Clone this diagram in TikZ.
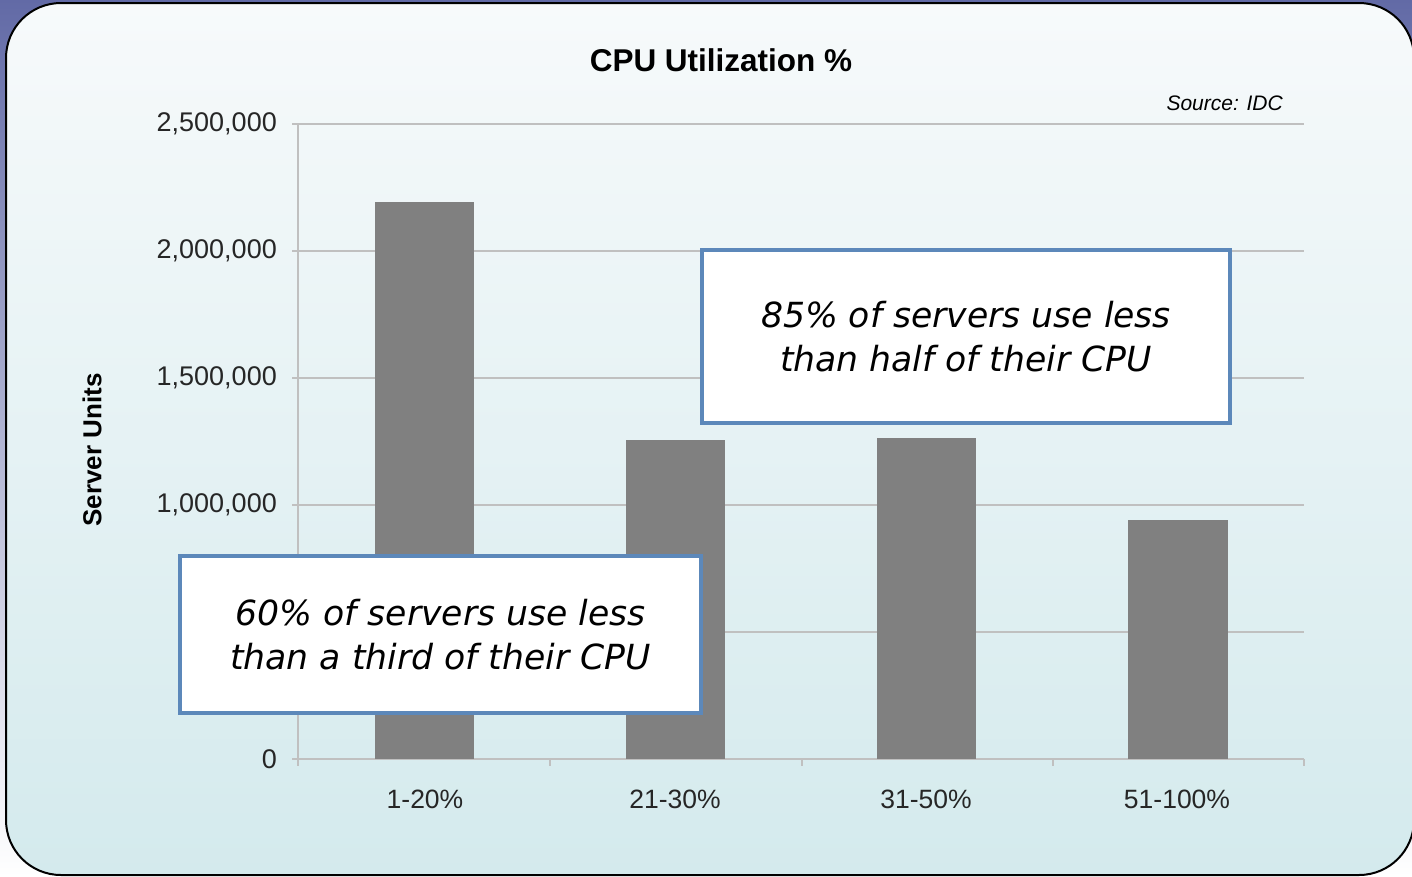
\documentclass[tikz,border=0pt]{standalone}
\usepackage{fontspec}
\setmainfont{Liberation Sans}
\newfontfamily\callfont{DejaVu Sans}
\definecolor{outerpurple}{RGB}{98,106,166}
\definecolor{innertop}{RGB}{247,250,251}
\definecolor{innerbot}{RGB}{212,234,237}
\definecolor{gridc}{RGB}{192,192,192}
\definecolor{barc}{RGB}{128,128,128}
\definecolor{boxc}{RGB}{92,136,186}
\definecolor{labc}{RGB}{38,38,38}
\tikzset{
  gridline/.style={gridc, line width=1.6pt},
  ticklab/.style={labc, anchor=east, inner sep=0pt, font=\fontsize{27}{30}\selectfont},
  catlab/.style={labc, font=\fontsize{26.5}{30}\selectfont},
  bar/.style={fill=barc},
  callbox/.style={draw=boxc, line width=4pt, fill=white, align=center, inner sep=0pt,
    font=\callfont\itshape\fontsize{34.6}{44}\selectfont}
}
\begin{document}
\begin{tikzpicture}[x=1pt,y=-1pt]
\useasboundingbox (0,0) rectangle (1412,876);
\shade[top color=outerpurple, bottom color=white] (0,0) rectangle (1412,876);
\draw[line width=2pt, top color=innertop, bottom color=innerbot, rounded corners=55pt] (6,3) rectangle (1414,875);
% grid
\foreach \y in {124,251,378,505,632} \draw[gridline] (292,\y) -- (1304,\y);
\draw[gridline] (298,124) -- (298,759);
\draw[gridline] (292,759) -- (1304,759);
\foreach \x in {298,550,802,1053,1304} \draw[gridline] (\x,759) -- (\x,766);
% bars
\fill[bar] (375,202) rectangle (474,759);
\fill[bar] (626,440) rectangle (725,759);
\fill[bar] (877,438) rectangle (976,759);
\fill[bar] (1128,520) rectangle (1228,759);
% labels
\node[font=\bfseries\fontsize{31.5}{34}\selectfont] (title) at (721,60) {CPU Utilization \%};
\node[anchor=east, inner sep=0pt, font=\itshape\fontsize{21}{24}\selectfont] (src) at (1283,103) {Source: IDC};
\node[ticklab] (t0) at (277,759) {0};
\node[ticklab] (t1) at (277,505) {1,000,000};
\node[ticklab] (t15) at (277,378) {1,500,000};
\node[ticklab] (t2) at (277,251) {2,000,000};
\node[ticklab] (t25) at (277,124) {2,500,000};
\node[catlab] (c1) at (425,799) {1-20\%};
\node[catlab] (c2) at (675,799) {21-30\%};
\node[catlab] (c3) at (926,799) {31-50\%};
\node[catlab] (c4) at (1177,799) {51-100\%};
\node[rotate=90, font=\bfseries\fontsize{26}{30}\selectfont] (ylab) at (92,450) {Server Units};
% callouts
\node[callbox, minimum width=521pt, minimum height=157pt] (box1) at (440.5,634.5)
  {60\% of servers use less\\than a third of their CPU};
\node[callbox, minimum width=528pt, minimum height=173pt] (box2) at (966,336.5)
  {85\% of servers use less\\than half of their CPU};
\end{tikzpicture}
\end{document}
